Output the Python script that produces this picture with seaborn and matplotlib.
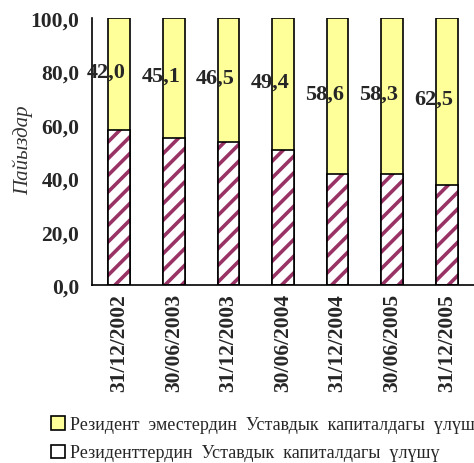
import matplotlib
matplotlib.use('Agg')
import matplotlib.pyplot as plt
import matplotlib.patches as mpatches
from matplotlib.ticker import FuncFormatter, FixedLocator
import seaborn as sns
import pandas as pd

# 数据：日期、非居民份额（%）
dates = ['31/12/2002', '30/06/2003', '31/12/2003', '30/06/2004',
         '31/12/2004', '30/06/2005', '31/12/2005']
nonresident = [42.0, 45.1, 46.5, 49.4, 58.6, 58.3, 62.5]
resident = [100 - v for v in nonresident]
total = [100.0] * len(dates)

label_nonres = 'Резидент  эместердин  Уставдык  капиталдагы  үлүшү'
label_res = 'Резиденттердин  Уставдык  капиталдагы  үлүшү'
ylabel = 'Пайыздар'

sns.set_theme(style='white')
plt.rcParams['font.family'] = ['Liberation Serif', 'DejaVu Serif']
plt.rcParams['hatch.linewidth'] = 2.6

df = pd.DataFrame({'date': dates, 'nonres': nonresident,
                   'res': resident, 'total': total})

fig = plt.figure(figsize=(4.74, 4.64), dpi=100)
ax = fig.add_axes([92 / 474, 1 - 286 / 464, 1 - 92 / 474, 267 / 464])

# 上层（非居民）：黄色整条
sns.barplot(data=df, x='date', y='total', color='#FFFF99', width=0.4,
            saturation=1, edgecolor='black', linewidth=1.2, ax=ax)
# 下层（居民）：紫色斜线填充
sns.barplot(data=df, x='date', y='res', color='white', width=0.4,
            saturation=1, edgecolor='#993366', linewidth=0, hatch='//', ax=ax)
# 下层边框
sns.barplot(data=df, x='date', y='res', width=0.4, fill=False,
            edgecolor='black', linewidth=1.2, ax=ax)

# 数值标签，放在黄色部分中间偏左
for i, (r, v) in enumerate(zip(resident, nonresident)):
    ax.text(i - 0.24, r + v / 2 + 1, f'{v:.1f}'.replace('.', ','),
            ha='center', va='center', fontsize=16, fontweight='bold')

ax.set_xlim(-0.5, len(dates) - 0.5)
ax.set_ylim(0, 100)
ax.set_yticks([0, 20, 40, 60, 80, 100])
ax.yaxis.set_major_formatter(FuncFormatter(lambda y, _: f'{y:.1f}'.replace('.', ',')))
ax.xaxis.set_minor_locator(FixedLocator([i - 0.5 for i in range(len(dates) + 1)]))
ax.tick_params(axis='x', which='major', length=0, pad=6, labelrotation=90)
ax.tick_params(axis='x', which='minor', length=5, width=1, color='black', direction='out')
ax.tick_params(axis='y', length=6, width=1, color='black', direction='out', pad=3)
for lab in ax.get_xticklabels() + ax.get_yticklabels():
    lab.set_fontweight('bold')
    lab.set_fontsize(15.5)
ax.set_xlabel('')
ax.set_ylabel(ylabel, fontsize=15, fontstyle='italic', color='#333333')
ax.yaxis.set_label_coords(-0.155, 0.51)

for s in ['top', 'right']:
    ax.spines[s].set_visible(False)
for s in ['left', 'bottom']:
    ax.spines[s].set_color('black')
    ax.spines[s].set_linewidth(1.2)

handles = [mpatches.Patch(facecolor='#FFFF99', edgecolor='black', linewidth=1.2),
           mpatches.Patch(facecolor='white', edgecolor='black', linewidth=1.2)]
fig.legend(handles, [label_nonres, label_res], loc='upper left',
           bbox_to_anchor=(44 / 474, 1 - 410 / 464), frameon=False,
           fontsize=13, handlelength=0.75, handleheight=0.75,
           handletextpad=0.3, labelspacing=0.62, borderaxespad=0)

fig.savefig('out.png', dpi=100)
